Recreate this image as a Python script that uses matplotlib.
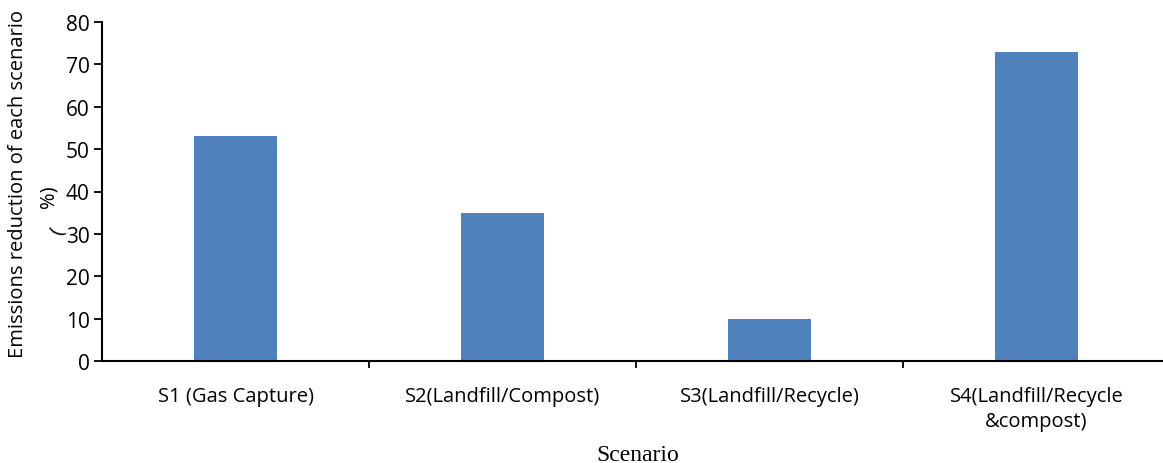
import matplotlib
matplotlib.use("Agg")
import matplotlib.pyplot as plt
import numpy as np

categories = ["S1 (Gas Capture)", "S2(Landfill/Compost)", "S3(Landfill/Recycle)", "S4(Landfill/Recycle\n&compost)"]
values = [53, 35, 10, 73]
yticks = [0, 10, 20, 30, 40, 50, 60, 70, 80]

W, H = 1163, 464
fig = plt.figure(figsize=(W / 100, H / 100), dpi=100)
ax = fig.add_axes([102 / W, 102 / H, 1068 / W, 339 / H])

x = np.arange(len(categories))
ax.bar(x, values, width=0.31, color="#4F81BD", zorder=2)
ax.set_xlim(-0.5, len(categories) - 0.5)
ax.set_ylim(0, 80)
ax.set_yticks(yticks)
ax.set_yticklabels([str(v) for v in yticks], fontsize=15, family="Open Sans")

ax.set_xticks(np.arange(1, len(categories)) - 0.5)
ax.set_xticklabels([])
ax.set_xticks(x, minor=True)
ax.set_xticklabels(categories, minor=True, fontsize=14.5, family="Open Sans", linespacing=1.33)
ax.tick_params(axis="x", which="minor", length=0, pad=18)
ax.tick_params(axis="x", which="major", length=5, width=1.3, direction="out")
ax.tick_params(axis="y", length=6, width=1.3, direction="out", pad=3)

for s in ["top", "right"]:
    ax.spines[s].set_visible(False)
for s in ["left", "bottom"]:
    ax.spines[s].set_linewidth(1.5)
    ax.spines[s].set_color("black")

fig.text(638 / W, 1 - 461 / H, "Scenario", family="Liberation Serif", fontsize=17,
         ha="center", va="baseline")

fig.text(18 / W, 1 - 184 / H, "Emissions reduction of each scenario", rotation=90,
         ha="center", va="center", fontsize=14.5, family="Open Sans")
fig.text(48 / W, 1 - 197 / H, "%)", rotation=90,
         ha="center", va="center", fontsize=14.5, family="Open Sans")
fig.text(57 / W, 1 - 231 / H, "(", rotation=70, ha="center", va="center",
         fontsize=14.5, family="Open Sans")

fig.savefig("out.png", dpi=100)
